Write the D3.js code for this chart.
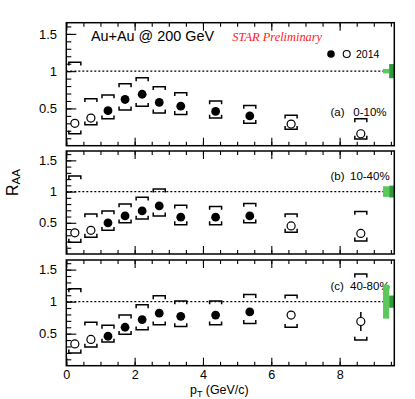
<!DOCTYPE html>
<html><head><meta charset="utf-8">
<script src="https://cdn.jsdelivr.net/npm/d3@7"></script>
<style>body{margin:0;background:#fff}</style>
</head><body><svg id="c" width="415" height="399"></svg>
<script>
// ---- data ----
const pT = [0.25, 0.72, 1.22, 1.72, 2.22, 2.72, 3.35, 4.37, 5.37, 6.58, 8.62];
const filled = [false, false, true, true, true, true, true, true, true, false, false];
const panelTags = ["(a)", "(b)", "(c)"];
const centralities = ["0-10%", "10-40%", "40-80%"];

const raaA   = [0.30, 0.37, 0.47, 0.62, 0.69, 0.58, 0.53, 0.46, 0.40, 0.29, 0.16];
const sysHiA = [1.12, 0.63, 0.68, 0.83, 0.91, 0.79, 0.71, 0.60, 0.54, 0.41, 0.36];
const sysLoA = [0.16, 0.28, 0.36, 0.48, 0.53, 0.44, 0.42, 0.37, 0.30, 0.22, 0.09];
const statA  = [0.02, 0.02, 0.02, 0.02, 0.02, 0.02, 0.02, 0.02, 0.02, 0.03, 0.04];

const raaB   = [0.34, 0.38, 0.50, 0.61, 0.69, 0.77, 0.59, 0.59, 0.61, 0.45, 0.33];
const sysHiB = [1.25, 0.64, 0.69, 0.80, 0.91, 1.04, 0.78, 0.76, 0.81, 0.64, 0.68];
const sysLoB = [0.19, 0.27, 0.38, 0.50, 0.56, 0.61, 0.47, 0.47, 0.50, 0.35, 0.21];
const statB  = [0.02, 0.02, 0.02, 0.02, 0.02, 0.02, 0.02, 0.02, 0.02, 0.03, 0.05];

const raaC   = [0.34, 0.41, 0.46, 0.60, 0.72, 0.82, 0.77, 0.79, 0.84, 0.79, 0.69];
const sysHiC = [1.20, 0.68, 0.63, 0.79, 0.95, 1.09, 1.01, 1.01, 1.11, 1.10, 1.43];
const sysLoC = [0.20, 0.29, 0.37, 0.49, 0.56, 0.64, 0.61, 0.64, 0.66, 0.60, 0.40];
const statC  = [0.02, 0.02, 0.02, 0.02, 0.02, 0.02, 0.02, 0.03, 0.04, 0.06, 0.15];

const normNcoll = [0.03, 0.085, 0.265];   // light green boxes
const normPP    = [0.095, 0.095, 0.095];  // dark green boxes

const yMajorTicks = [0.5, 1, 1.5];
const xMajorTicks = [0, 2, 4, 6, 8];

const raa = [raaA, raaB, raaC];
const sysHi = [sysHiA, sysHiB, sysHiC];
const sysLo = [sysLoA, sysLoB, sysLoC];
const stat = [statA, statB, statC];

// ---- layout ----
const svg = d3.select("#c");
const FONT = "'Liberation Sans', Arial, Helvetica, sans-serif";
svg.append("rect").attr("width", 415).attr("height", 399).attr("fill", "#fff");

const x = d3.scaleLinear().domain([0, 9.6]).range([66.3, 394.3]);
const panels = [
  {top: 22.7, bottom: 145.7, labelY: 115.5},
  {top: 151, bottom: 254, labelY: 179.5},
  {top: 260, bottom: 365.7, labelY: 289.5}
];
const xMinor = d3.range(0, 9.51, 0.5);
const yMinor = d3.range(0.1, 1.61, 0.1).map(v => +v.toFixed(2));

panels.forEach((p, i) => {
  const y = d3.scaleLinear().domain([0, 1.65]).range([p.bottom, p.top]);
  const g = svg.append("g");

  const styleAxis = sel => {
    sel.select(".domain").remove();
    sel.selectAll("line").attr("stroke", "#000").attr("stroke-width", 1.1);
  };
  g.append("g").attr("transform", `translate(${x(0)},0)`)
    .call(d3.axisLeft(y).tickValues(yMinor).tickSize(-5).tickFormat(""))
    .call(styleAxis);
  g.append("g").attr("transform", `translate(${x(0)},0)`)
    .call(d3.axisLeft(y).tickValues(yMajorTicks).tickSize(-10).tickPadding(9.3)
      .tickFormat(d => d3.format("")(d)))
    .call(styleAxis)
    .call(s => s.selectAll("text").attr("font-family", FONT).attr("font-size", 13).attr("fill", "#000"));

  const isLast = i === panels.length - 1;
  g.append("g").attr("transform", `translate(0,${p.bottom})`)
    .call(d3.axisBottom(x).tickValues(xMinor).tickSize(-4).tickFormat(""))
    .call(styleAxis);
  g.append("g").attr("transform", `translate(0,${p.bottom})`)
    .call(d3.axisBottom(x).tickValues(xMajorTicks).tickSize(-8).tickPadding(4.5)
      .tickFormat(isLast ? d3.format("d") : ""))
    .call(styleAxis)
    .call(s => s.selectAll("text").attr("font-family", FONT).attr("font-size", 12.6).attr("fill", "#000"));
  g.append("g").attr("transform", `translate(0,${p.top})`)
    .call(d3.axisTop(x).tickValues(xMinor).tickSize(-4).tickFormat(""))
    .call(styleAxis);
  g.append("g").attr("transform", `translate(0,${p.top})`)
    .call(d3.axisTop(x).tickValues(xMajorTicks).tickSize(-8).tickFormat(""))
    .call(styleAxis);

  // dashed unity line
  g.append("line").attr("x1", x(0)).attr("x2", x(9.6))
    .attr("y1", y(1)).attr("y2", y(1))
    .attr("stroke", "#000").attr("stroke-width", 1.3).attr("stroke-dasharray", "2,2");

  // systematic brackets + stat errors
  const hw = 6, hook = 3.3;
  pT.forEach((pt, k) => {
    const cx = x(pt);
    const yh = y(sysHi[i][k]), yl = y(sysLo[i][k]);
    g.append("path")
      .attr("d", `M${cx - hw},${yh + hook}V${yh}H${cx + hw}V${yh + hook}`)
      .attr("fill", "none").attr("stroke", "#000").attr("stroke-width", 1.5);
    g.append("path")
      .attr("d", `M${cx - hw},${yl - hook}V${yl}H${cx + hw}V${yl - hook}`)
      .attr("fill", "none").attr("stroke", "#000").attr("stroke-width", 1.5);
    g.append("line").attr("x1", cx).attr("x2", cx)
      .attr("y1", y(raa[i][k] + stat[i][k])).attr("y2", y(raa[i][k] - stat[i][k]))
      .attr("stroke", "#000").attr("stroke-width", 1.5);
  });

  // markers
  pT.forEach((pt, k) => {
    g.append("circle").attr("cx", x(pt)).attr("cy", y(raa[i][k]))
      .attr("r", filled[k] ? 4.4 : 4.0)
      .attr("fill", filled[k] ? "#000" : "#fff")
      .attr("stroke", "#000").attr("stroke-width", filled[k] ? 0 : 1.2);
  });

  // panel labels
  g.append("text").attr("x", 330.5).attr("y", p.labelY).text(panelTags[i])
    .attr("font-family", FONT).attr("font-size", 11.5).attr("fill", "#000");
  g.append("text").attr("x", i === 0 ? 353.3 : 350).attr("y", p.labelY).text(centralities[i])
    .attr("font-family", FONT).attr("font-size", 11.5).attr("fill", "#000");

  // normalization boxes
  g.append("rect").attr("x", x(9.27)).attr("width", x(9.45) - x(9.27))
    .attr("y", y(1 + normNcoll[i])).attr("height", y(1 - normNcoll[i]) - y(1 + normNcoll[i]))
    .attr("fill", "#5cc85c");
  g.append("rect").attr("x", x(9.45)).attr("width", x(9.6) - x(9.45) + 0.5)
    .attr("y", y(1 + normPP[i])).attr("height", y(1 - normPP[i]) - y(1 + normPP[i]))
    .attr("fill", "#2f9a3c");

  // frame
  g.append("rect").attr("x", x(0)).attr("y", p.top)
    .attr("width", x(9.6) - x(0)).attr("height", p.bottom - p.top)
    .attr("fill", "none").attr("stroke", "#000").attr("stroke-width", 1.5);
});

// header texts
svg.append("text").attr("x", 91).attr("y", 40.5).text("Au+Au @ 200 GeV")
  .attr("font-family", FONT).attr("font-size", 14.4).attr("fill", "#000");
svg.append("text").attr("x", 232.3).attr("y", 40.5).text("STAR Preliminary")
  .attr("font-family", "'Liberation Serif', 'Times New Roman', serif")
  .attr("font-style", "italic").attr("font-size", 12.4).attr("fill", "#ff2020");

// legend
svg.append("circle").attr("cx", 331).attr("cy", 54).attr("r", 3.8).attr("fill", "#000");
svg.append("circle").attr("cx", 346.7).attr("cy", 54).attr("r", 3.5)
  .attr("fill", "#fff").attr("stroke", "#000").attr("stroke-width", 1.1);
svg.append("text").attr("x", 356).attr("y", 57.6).text("2014")
  .attr("font-family", FONT).attr("font-size", 10.5).attr("fill", "#000");

// axis titles
const yt = svg.append("text").attr("transform", "translate(18.3,182.5) rotate(-90)")
  .attr("text-anchor", "middle").attr("font-family", FONT).attr("fill", "#000");
yt.append("tspan").attr("font-size", 16).text("R");
yt.append("tspan").attr("font-size", 11.5).attr("dy", 2).text("AA");

const xt = svg.append("text").attr("x", 190).attr("y", 394)
  .attr("font-family", FONT).attr("font-size", 12.4).attr("fill", "#000");
xt.append("tspan").text("p");
xt.append("tspan").attr("font-size", 9).attr("dy", 2.5).text("T");
xt.append("tspan").attr("dy", -2.5).text(" (GeV/c)");
</script>
</body></html>
